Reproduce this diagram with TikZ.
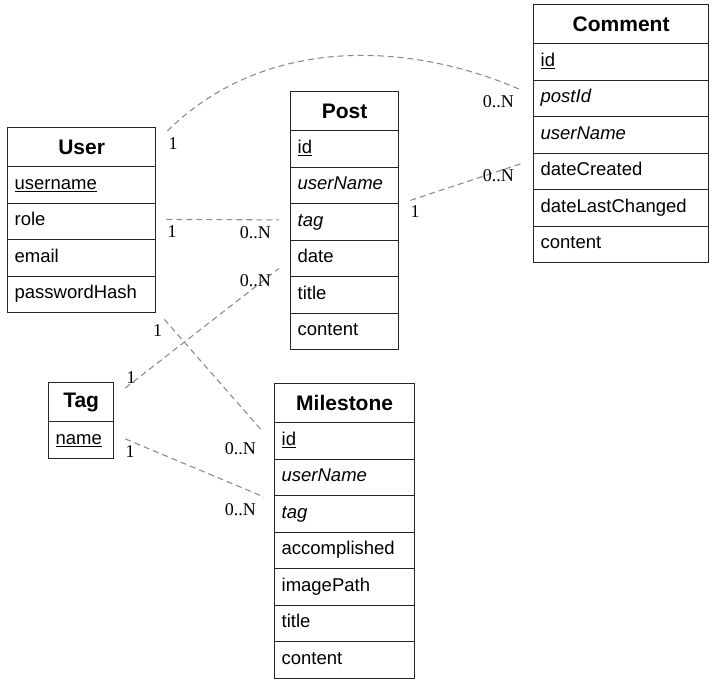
\documentclass[tikz,border=0pt]{standalone}
\usepackage{fontspec}
\setmainfont{Liberation Sans}
\newfontfamily\cardfont{Liberation Serif}
\usepackage{tikz}
\usetikzlibrary{positioning}

\tikzset{
	box/.style={draw=black!85, line width=1.3pt, anchor=north west, inner sep=0pt},
	head/.style={box, font=\fontsize{21}{24}\selectfont\bfseries, minimum height=39pt},
	field/.style={box, font=\fontsize{18.5}{22}\selectfont, minimum height=36.5pt, inner xsep=7pt, align=left, text height=13pt, text depth=4pt},
	rel/.style={draw=black!45, dash pattern=on 6pt off 4pt, line width=1.1pt},
	card/.style={font=\cardfont\fontsize{18}{20}\selectfont, inner sep=0pt},
}

% table: name, x, y, width, fields
\newcommand{\erTable}[5]{%
	\node[head, minimum width=#4pt] (#1) at (#2,#3) {#1};
	\pgfmathsetmacro{\fieldW}{#4-14}
	\foreach \f [count=\i] in {#5}
		\node[field, text width=\fieldW pt, minimum width=#4pt] (#1\i) at (#2,{#3+39+(\i-1)*36.5}) {\f};
}

\begin{document}
\begin{tikzpicture}[x=1pt, y=-1pt]
	
	% ------------------------------------------------
	% Ensure the dimensions of graphic are appropriate
	\useasboundingbox (0,0) rectangle (720,691);
	
	% ------------------------------------------------
	% Tables
	\erTable{User}{7}{127}{148}{\underline{username}, role, email, passwordHash}
	\erTable{Post}{290}{91}{108}{\underline{id}, \textit{userName}, \textit{tag}, date, title, content}
	\erTable{Comment}{533}{4}{175}{\underline{id}, \textit{postId}, \textit{userName}, dateCreated, dateLastChanged, content}
	\erTable{Tag}{48}{382}{65}{\underline{name}}
	\erTable{Milestone}{274}{383}{140}{\underline{id}, \textit{userName}, \textit{tag}, accomplished, imagePath, title, content}
	
	% ------------------------------------------------
	% Relation end points
	\path (User.north east)   +(11,4)   coordinate (UserC);
	\path (Comment2.west)     +(-11,-8) coordinate (CommentU);
	\path (User2.east)        +(10,-2)  coordinate (UserP);
	\path (Post3.west)        +(-11,-2) coordinate (PostU);
	\path (Tag.north east)    +(11,6)   coordinate (TagP);
	\path (Post4.west)        +(-11,10) coordinate (PostT);
	\path (User4.south east)  +(8,6)    coordinate (UserM);
	\path (Milestone1.west)   +(-11,-9) coordinate (MilestoneU);
	\path (Tag1.east)         +(11,-1)  coordinate (TagM);
	\path (Milestone3.west)   +(-10,-17) coordinate (MilestoneT);
	\path (Post2.east)        +(11,15)  coordinate (PostC);
	\path (Comment4.west)     +(-11,-8) coordinate (CommentP);
	
	% ----------------
	% Relations
	\draw[rel] (UserC) .. controls (270,30) and (420,45) .. (CommentU);
	\draw[rel] (UserP) -- (PostU);
	\draw[rel] (TagP) -- (PostT);
	\draw[rel] (UserM) -- (MilestoneU);
	\draw[rel] (TagM) -- (MilestoneT);
	\draw[rel] (PostC) -- (CommentP);
	
	% ----------------
	% Cardinalities
	\node[card, below right=6pt and 1pt of UserC] (UserCOne) {1};
	\node[card, below left=5pt and 8pt of CommentU] (CommentUMany) {0..N};
	\node[card, below right=6pt and 1pt of UserP] (UserPOne) {1};
	\node[card, below left=6pt and 8pt of PostU] (PostUMany) {0..N};
	\node[card, above right=4pt and 1pt of TagP] (TagPOne) {1};
	\node[card, below left=6pt and 8pt of PostT] (PostTMany) {0..N};
	\node[card, below left=5pt and 2pt of UserM] (UserMOne) {1};
	\node[card, below left=10pt and 7pt of MilestoneU] (MilestoneUMany) {0..N};
	\node[card, below right=7pt and 0pt of TagM] (TagMOne) {1};
	\node[card, below left=6pt and 8pt of MilestoneT] (MilestoneTMany) {0..N};
	\node[card, below right=5pt and 0pt of PostC] (PostCOne) {1};
	\node[card, below left=6pt and 8pt of CommentP] (CommentPMany) {0..N};
	
\end{tikzpicture}
\end{document}
